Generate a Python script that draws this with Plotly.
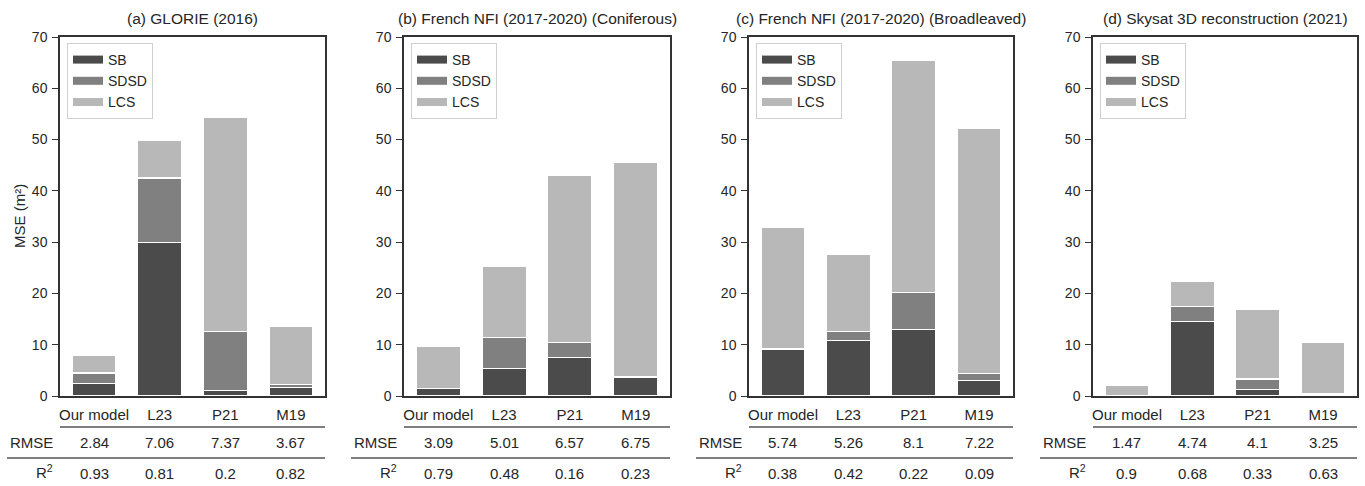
import plotly.graph_objects as go

W, H = 1365, 486

panel_titles = ["(a) GLORIE (2016)",
                "(b) French NFI (2017-2020) (Coniferous)",
                "(c) French NFI (2017-2020) (Broadleaved)",
                "(d) Skysat 3D reconstruction (2021)"]
models = ["Our model", "L23", "P21", "M19"]

sb_a = [2.4, 30.0, 1.0, 1.6]
sdsd_a = [2.1, 12.5, 11.5, 0.7]
lcs_a = [3.5, 7.3, 41.8, 11.2]

sb_b = [1.4, 5.4, 7.5, 3.7]
sdsd_b = [0.1, 6.0, 3.0, 0.1]
lcs_b = [8.1, 13.8, 32.6, 41.7]

sb_c = [9.0, 10.9, 13.0, 3.1]
sdsd_c = [0.3, 1.6, 7.2, 1.3]
lcs_c = [23.6, 15.2, 45.3, 47.7]

sb_d = [0.05, 14.6, 1.2, 0.2]
sdsd_d = [0.05, 2.8, 2.1, 0.2]
lcs_d = [2.05, 5.0, 13.5, 10.1]

rmse_a = ["2.84", "7.06", "7.37", "3.67"]
rmse_b = ["3.09", "5.01", "6.57", "6.75"]
rmse_c = ["5.74", "5.26", "8.1", "7.22"]
rmse_d = ["1.47", "4.74", "4.1", "3.25"]

r2_a = ["0.93", "0.81", "0.2", "0.82"]
r2_b = ["0.79", "0.48", "0.16", "0.23"]
r2_c = ["0.38", "0.42", "0.22", "0.09"]
r2_d = ["0.9", "0.68", "0.33", "0.63"]

components = ["SB", "SDSD", "LCS"]
colors = ["#4b4b4b", "#808080", "#b8b8b8"]

panels = [
    (sb_a, sdsd_a, lcs_a, rmse_a, r2_a),
    (sb_b, sdsd_b, lcs_b, rmse_b, r2_b),
    (sb_c, sdsd_c, lcs_c, rmse_c, r2_c),
    (sb_d, sdsd_d, lcs_d, rmse_d, r2_d),
]

# pixel layout of the plot areas
ax_left = [60, 404, 749, 1093]
ax_right = [325, 670, 1013, 1357]
ax_top, ax_bottom = 37, 396

def px(x):
    return x / W

def py(y):
    return 1 - y / H

FONT = "Liberation Sans, Arial, sans-serif"
TXT = "#262626"

fig = go.Figure()
layout = dict(
    template="none",
    width=W, height=H,
    margin=dict(l=0, r=0, t=0, b=0, autoexpand=False),
    paper_bgcolor="white", plot_bgcolor="white",
    barmode="stack", bargap=0.33,
    font=dict(family=FONT, size=15, color=TXT),
    showlegend=True,
)
annotations = []
shapes = []

for i, (sb, sdsd, lcs, rmse, r2) in enumerate(panels):
    k = "" if i == 0 else str(i + 1)
    xa, ya = "x" + k, "y" + k
    leg = "legend" + k
    for comp, vals, col in zip(components, [sb, sdsd, lcs], colors):
        fig.add_trace(go.Bar(
            x=models, y=vals, name=comp, xaxis=xa, yaxis=ya,
            marker=dict(color=col, line=dict(color="white", width=1.2)),
            showlegend=False, width=0.67,
        ))
        # legend entry (wide patch like matplotlib)
        fig.add_trace(go.Scatter(
            x=[None], y=[None], name=comp, mode="lines", xaxis=xa, yaxis=ya,
            line=dict(color=col, width=8), legend=leg, showlegend=True,
        ))
    layout["xaxis" + k] = dict(
        domain=[px(ax_left[i]), px(ax_right[i])], anchor=ya, automargin=False,
        range=[-0.52, 3.52], showline=True, mirror=True,
        linecolor="#333333", linewidth=1.5, ticks="", showgrid=False, zeroline=False,
        tickfont=dict(size=15, color=TXT), ticklabelstandoff=4,
        categoryorder="array", categoryarray=models,
    )
    layout["yaxis" + k] = dict(
        domain=[py(ax_bottom), py(ax_top)], anchor=xa, automargin=False,
        range=[0, 70], dtick=10, showline=True, mirror=True,
        linecolor="#333333", linewidth=1.5, ticks="outside", ticklen=6,
        tickwidth=1.2, tickcolor="#333333", showgrid=False, zeroline=False,
        tickfont=dict(size=14, color=TXT), ticklabelstandoff=2,
    )
    layout[leg] = dict(
        x=px(ax_left[i] + 7), y=py(43), xanchor="left", yanchor="top",
        bgcolor="rgba(255,255,255,0.8)", bordercolor="#d0d0d0", borderwidth=1,
        font=dict(size=14, color=TXT), itemwidth=30, tracegroupgap=0,
        traceorder="normal",
    )
    # title
    annotations.append(dict(
        text=panel_titles[i], xref="paper", yref="paper",
        x=px((ax_left[i] + ax_right[i]) / 2), y=py(19),
        xanchor="center", yanchor="middle", showarrow=False,
        font=dict(size=15.5, color=TXT)))
    # table lines
    shapes.append(dict(type="line", xref="paper", yref="paper",
                       x0=px(ax_left[i]), x1=px(ax_right[i]), y0=py(427), y1=py(427),
                       line=dict(color="#555555", width=1.3)))
    shapes.append(dict(type="line", xref="paper", yref="paper",
                       x0=px(ax_left[i] - 53), x1=px(ax_right[i]), y0=py(458), y1=py(458),
                       line=dict(color="#555555", width=1.3)))
    # row labels
    annotations.append(dict(text="RMSE", xref="paper", yref="paper",
                            x=px(ax_left[i] - 5), y=py(442), xanchor="right",
                            yanchor="middle", showarrow=False, font=dict(size=15, color=TXT)))
    annotations.append(dict(text="R<sup>2</sup>", xref="paper", yref="paper",
                            x=px(ax_left[i] - 5), y=py(471), xanchor="right",
                            yanchor="middle", showarrow=False, font=dict(size=15, color=TXT)))
    for m, rv, r2v in zip(models, rmse, r2):
        annotations.append(dict(text=rv, xref=xa, yref="paper", x=m, y=py(442),
                                xanchor="center", yanchor="middle", showarrow=False,
                                font=dict(size=15, color=TXT)))
        annotations.append(dict(text=r2v, xref=xa, yref="paper", x=m, y=py(473),
                                xanchor="center", yanchor="middle", showarrow=False,
                                font=dict(size=15, color=TXT)))

annotations.append(dict(text="MSE (m²)", xref="paper", yref="paper",
                        x=px(19), y=py(216), textangle=-90, xanchor="center",
                        yanchor="middle", showarrow=False, font=dict(size=15, color=TXT)))

layout["annotations"] = annotations
layout["shapes"] = shapes
fig.update_layout(**layout)
fig.write_html("out.html")
